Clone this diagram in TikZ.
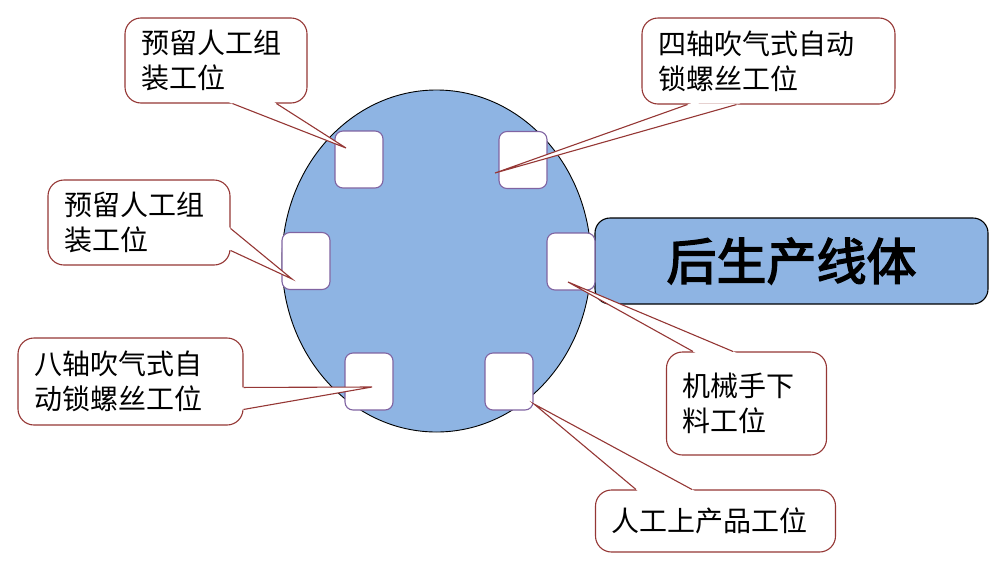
\documentclass[tikz,border=0pt]{standalone}
\usepackage{fontspec}
\setmainfont{Noto Sans CJK SC}
\newfontfamily\titlefont[FakeBold=3]{Noto Sans CJK SC}
\usetikzlibrary{calc,shapes.geometric}
\definecolor{discblue}{RGB}{142,180,227}
\definecolor{slotpurple}{RGB}{128,100,162}
\definecolor{balloonred}{RGB}{149,55,53}
\tikzset{
  slot/.style={draw=slotpurple, line width=1.1pt, fill=white, rounded corners=8pt,
    minimum width=48pt, minimum height=57pt, inner sep=0pt},
  balloon/.style={draw=balloonred, line width=1.1pt, fill=white, rounded corners=16pt,
    align=left, inner xsep=16pt, inner ysep=0pt, font=\fontsize{28}{35}\selectfont},
  balloonline/.style={draw=balloonred, line width=1.1pt, line join=miter},
}
\newcommand{\Wedge}[3]{%
  \fill[white] ($(#1)!-4pt!(#3)$) -- (#3) -- ($(#2)!-4pt!(#3)$) -- cycle;
  \draw[balloonline] (#1) -- (#3) -- (#2);}

\begin{document}
\begin{tikzpicture}[x=1pt,y=-1pt]

  \useasboundingbox (0,0) rectangle (1000,565);

  \node[ellipse, draw, line width=0.9pt, fill=discblue, minimum width=309pt,
    minimum height=342pt, inner sep=0pt] (disc) at (436.5,261) {};
  \node[draw, line width=1.1pt, fill=discblue, rounded corners=15pt, minimum width=393pt,
    minimum height=86pt, font=\fontsize{50}{60}\selectfont\titlefont] (line) at (791.5,261) {后生产线体};

  %% stations
  \node[slot] (s1) at (359,159.5) {};
  \node[slot] (s2) at (523,160) {};
  \node[slot] (s3) at (306,261) {};
  \node[slot] (s4) at (571,261.5) {};
  \node[slot] (s5) at (369,381.5) {};
  \node[slot] (s6) at (509,381.5) {};

  %% balloons
  \node[balloon, text width=150pt, minimum height=85pt] (b1) at (216,60.5) {预留人工组\\装工位};
  \node[balloon, text width=221pt, minimum height=86pt] (b2) at (768.5,61) {四轴吹气式自动\\锁螺丝工位};
  \node[balloon, text width=150pt, minimum height=85pt] (b3) at (139,222.5) {预留人工组\\装工位};
  \node[balloon, text width=193pt, minimum height=87pt] (b4) at (130.5,381.5) {八轴吹气式自\\动锁螺丝工位};
  \node[balloon, text width=128pt, minimum height=103pt] (b5) at (746.5,403.5) {机械手下\\料工位};
  \node[balloon, text width=208pt, minimum height=62pt] (b6) at (715.5,521) {人工上产品工位};

  \coordinate (b1a) at ($(b1.south west)+(108,0)$);
  \coordinate (b1b) at ($(b1.south west)+(152,0)$);
  \coordinate (b1t) at ($(s1)+(-13,-11.5)$);
  \coordinate (b2a) at ($(b2.south west)+(46,0)$);
  \coordinate (b2b) at ($(b2.south west)+(95,0)$);
  \coordinate (b2t) at ($(s2)+(-28,13)$);
  \coordinate (b3a) at ($(b3.north east)+(0,49)$);
  \coordinate (b3b) at ($(b3.north east)+(0,71)$);
  \coordinate (b3t) at ($(s3)+(-14,18)$);
  \coordinate (b4a) at ($(b4.north east)+(0,50)$);
  \coordinate (b4b) at ($(b4.north east)+(0,72)$);
  \coordinate (b4t) at ($(s5)+(3,5.5)$);
  \coordinate (b5a) at ($(b5.north west)+(27,0)$);
  \coordinate (b5b) at ($(b5.north west)+(67,0)$);
  \coordinate (b5t) at ($(s4)+(-3,20.5)$);
  \coordinate (b6a) at ($(b6.north west)+(41,0)$);
  \coordinate (b6b) at ($(b6.north west)+(97,0)$);
  \coordinate (b6t) at ($(s6)+(25,22.5)$);

  \Wedge{b1a}{b1b}{b1t} %% b1->s1
  \Wedge{b2a}{b2b}{b2t} %% b2->s2
  \Wedge{b3a}{b3b}{b3t} %% b3->s3
  \Wedge{b4a}{b4b}{b4t} %% b4->s5
  \Wedge{b5a}{b5b}{b5t} %% b5->s4
  \Wedge{b6a}{b6b}{b6t} %% b6->s6

\end{tikzpicture}
\end{document}
